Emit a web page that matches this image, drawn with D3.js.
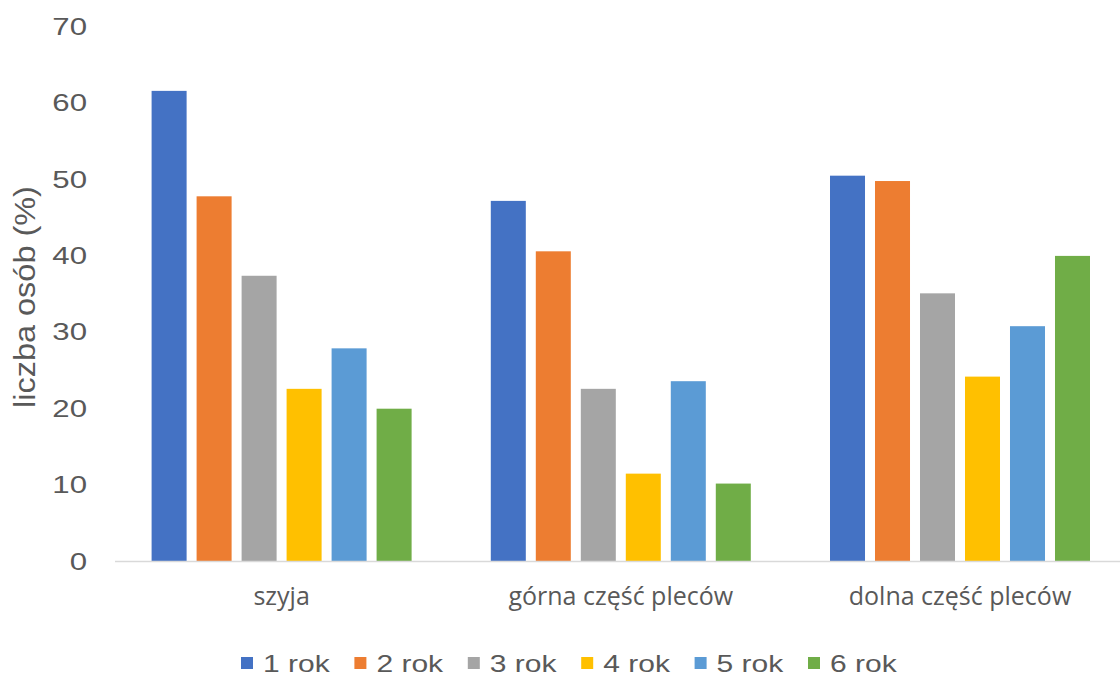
<!DOCTYPE html>
<html>
<head>
<meta charset="utf-8">
<script src="https://cdn.jsdelivr.net/npm/d3@7"></script>
<style>
  html, body { margin: 0; padding: 0; background: #fff; }
  svg { display: block; }
</style>
</head>
<body>
<svg id="chart" width="1120" height="679"></svg>
<script>
// Body regions and study years
const categories = ["szyja", "górna część pleców", "dolna część pleców"];
const seriesNames = ["1 rok", "2 rok", "3 rok", "4 rok", "5 rok", "6 rok"];
const seriesColors = ["#4472C4", "#ED7D31", "#A5A5A5", "#FFC000", "#5B9BD5", "#70AD47"];

// Share of people reporting pain (%), one array per year
const rok1 = [61.6, 47.2, 50.5];
const rok2 = [47.8, 40.6, 49.8];
const rok3 = [37.4, 22.6, 35.1];
const rok4 = [22.6, 11.5, 24.2];
const rok5 = [27.9, 23.6, 30.8];
const rok6 = [20.0, 10.2, 40.0];
const seriesValues = [rok1, rok2, rok3, rok4, rok5, rok6];

const yTicks = [0, 10, 20, 30, 40, 50, 60, 70];
const yLabel = "liczba osób (%)";

const svg = d3.select("#chart");
const textColor = "#595959";
const sansFont = "'Liberation Sans', Arial, sans-serif";

const x0 = d3.scaleBand().domain(categories).range([112, 1129.6]).paddingInner(0).paddingOuter(0);
const x1 = d3.scaleBand().domain(seriesNames).range([0, x0.bandwidth()]).paddingInner(0.222).paddingOuter(0.88);
const y = d3.scaleLinear().domain([0, 70]).range([561.5, 26.7]);

// Value axis labels (no line, no ticks), drawn slightly wide
const yAxis = d3.axisLeft(y).tickValues(yTicks).tickSize(0).tickPadding(0);
const gy = svg.append("g").attr("transform", "translate(87,0)").call(yAxis);
gy.select(".domain").remove();
gy.selectAll("text")
  .attr("x", 0)
  .attr("transform", "scale(1.3,1)")
  .attr("fill", textColor)
  .style("font-family", sansFont)
  .style("font-size", "24px");

// Bars
const groups = svg.append("g").selectAll("g")
  .data(categories)
  .join("g")
  .attr("transform", d => `translate(${x0(d)},0)`);

groups.selectAll("rect")
  .data((c, ci) => seriesNames.map((s, si) => ({ s, si, v: seriesValues[si][ci] })))
  .join("rect")
  .attr("x", d => x1(d.s))
  .attr("width", x1.bandwidth())
  .attr("y", d => y(d.v))
  .attr("height", d => y(0) - y(d.v))
  .attr("fill", d => seriesColors[d.si]);

// Category axis
const xAxis = d3.axisBottom(x0).tickSize(0).tickPadding(26);
const gx = svg.append("g").attr("transform", `translate(0,${y(0)})`).call(xAxis);
gx.select(".domain").attr("stroke", "#D9D9D9").attr("stroke-width", 1.5)
  .attr("d", "M115,0H1120");
gx.selectAll("text")
  .attr("fill", textColor)
  .style("font-family", "'Open Sans', sans-serif")
  .style("font-size", "25px");

// Axis title
svg.append("text")
  .attr("transform", "translate(35,297) rotate(-90) scale(1.12,1)")
  .attr("text-anchor", "middle")
  .attr("fill", textColor)
  .style("font-family", sansFont)
  .style("font-size", "29px")
  .text(yLabel);

// Legend
const legendStep = 113.4;
const items = svg.append("g").selectAll("g")
  .data(seriesNames)
  .join("g")
  .attr("transform", (d, i) => `translate(${241 + i * legendStep},0)`);
items.append("rect")
  .attr("x", 0).attr("y", 657).attr("width", 12).attr("height", 12)
  .attr("fill", (d, i) => seriesColors[i]);
items.append("text")
  .attr("transform", "translate(22,672) scale(1.25,1)")
  .attr("fill", textColor)
  .style("font-family", sansFont)
  .style("font-size", "24px")
  .text(d => d);
</script>
</body>
</html>
